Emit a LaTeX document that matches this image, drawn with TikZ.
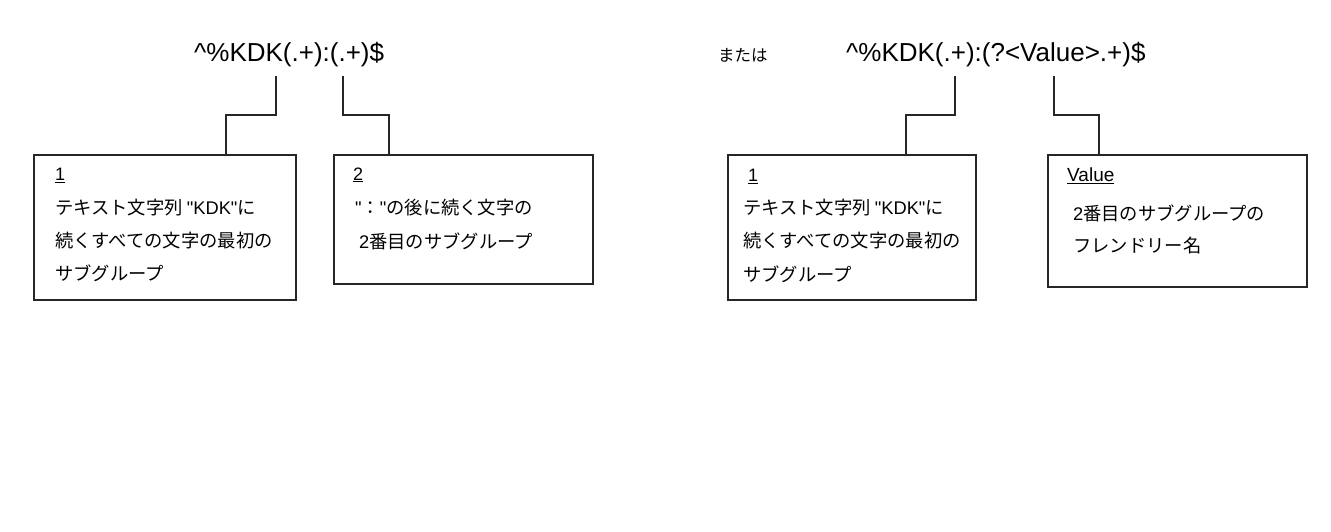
\documentclass[tikz,border=0pt]{standalone}
\usepackage{fontspec}
\setmainfont{Liberation Sans}
\newfontfamily\jp{Noto Sans CJK JP}
\newfontfamily\lat{Liberation Sans}
\begin{document}
\begin{tikzpicture}[x=1pt,y=-1pt,
  box/.style={draw=black!85, line width=1.8pt, anchor=north west, inner sep=0pt},
  conn/.style={draw=black!85, line width=1.8pt},
  regex/.style={anchor=base west, inner sep=0pt, font=\fontsize{26}{26}\selectfont},
  jtxt/.style={anchor=west, inner sep=0pt, font=\jp\fontsize{18.3}{18.3}\selectfont},
  lbl/.style={anchor=base west, inner sep=0pt, font=\fontsize{18}{18}\selectfont}]
\useasboundingbox (0,0) rectangle (1331,532);
% left panel
\node[regex] (r1) at (194,62) {\textasciicircum\%KDK(.+):(.+)\$};
\node[box, minimum width=262pt, minimum height=145pt] (b1) at (33,154) {};
\node[box, minimum width=259pt, minimum height=129pt] (b2) at (333,154) {};
\coordinate (r1a) at (276,76);
\coordinate (r1am) at (226,115);
\coordinate (r1b) at (343,76);
\coordinate (r1bm) at (389,115);
\draw[conn] (r1a) |- (r1am) -- (r1am |- b1.north);
\draw[conn] (r1b) |- (r1bm) -- (r1bm |- b2.north);
\node[lbl] (l1) at (55,181) {\underline{1}};
\node[jtxt] (t11) at (55,208) {テキスト文字列 {\lat "KDK"}に};
\node[jtxt] (t12) at (55,241) {続くすべての文字の最初の};
\node[jtxt] (t13) at (55,273) {サブグループ};
\node[lbl] (l2) at (353,180) {\underline{2}};
\node[jtxt] (t21) at (355,208) {{\lat "}：{\lat "}の後に続く文字の};
\node[jtxt] (t22) at (359,241) {{\lat 2}番目のサブグループ};
% right panel
\node[anchor=west, inner sep=0pt, font=\jp\fontsize{16.5}{16.5}\selectfont] (or) at (718,55) {または};
\node[regex] (r2) at (846,62) {\textasciicircum\%KDK(.+):(?<Value>.+)\$};
\node[box, minimum width=248pt, minimum height=145pt] (b3) at (727,154) {};
\node[box, minimum width=259pt, minimum height=132pt] (b4) at (1047,154) {};
\coordinate (r2a) at (955,76);
\coordinate (r2am) at (906,115);
\coordinate (r2b) at (1054,76);
\coordinate (r2bm) at (1099,115);
\draw[conn] (r2a) |- (r2am) -- (r2am |- b3.north);
\draw[conn] (r2b) |- (r2bm) -- (r2bm |- b4.north);
\node[lbl] (l3) at (748,182) {\underline{1}};
\node[jtxt] (t31) at (743,208) {テキスト文字列 {\lat "KDK"}に};
\node[jtxt] (t32) at (743,241) {続くすべての文字の最初の};
\node[jtxt] (t33) at (743,274) {サブグループ};
\node[lbl, font=\fontsize{19}{19}\selectfont] (l4) at (1067,182) {\underline{Value}};
\node[jtxt] (t41) at (1073,213) {{\lat 2}番目のサブグループの};
\node[jtxt] (t42) at (1073,246) {フレンドリー名};
\end{tikzpicture}
\end{document}
